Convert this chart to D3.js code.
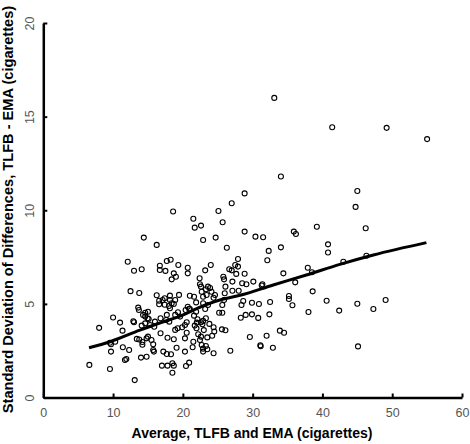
<!DOCTYPE html>
<html>
<head>
<meta charset="utf-8">
<script src="https://cdn.jsdelivr.net/npm/d3@7"></script>
<style>
  html, body { margin: 0; padding: 0; background: #fff; }
  svg { display: block; }
</style>
</head>
<body>
<svg id="chart" width="470" height="444"></svg>
<script>
// ---- Data ----
const xTicks = [0, 10, 20, 30, 40, 50, 60];
const yTicks = [0, 5, 10, 15, 20];
const xTitle = "Average, TLFB and EMA (cigarettes)";
const yTitle = "Standard Deviation of Differences, TLFB - EMA (cigarettes)";

// scatter points: average (x) and SD of differences (y)
const avgX = [
  33.1, 41.4, 49.2, 55.0, 34.05, 28.85, 45.0, 44.75, 39.2, 46.2,
  28.85, 30.4, 31.5, 35.9, 36.2, 40.8, 40.8, 34.05, 32.3, 32.1,
  28.85, 34.4, 37.9, 38.5, 43.0, 46.3, 36.1, 38.6, 40.6, 45.0,
  49.05, 47.3, 42.4, 38.0, 35.2, 35.2, 35.7, 32.5, 32.4, 33.9,
  34.5, 32.0, 29.6, 31.1, 31.15, 32.9, 45.1, 30.1, 31.4, 31.3,
  29.1, 28.5, 29.9, 30.9, 28.65, 28.4, 29.0, 29.9, 30.8, 28.3,
  27.1, 28.0, 25.2, 25.65, 25.65, 25.9, 26.8, 24.4, 25.6, 26.1,
  24.4, 24.5, 24.2, 22.7, 23.3, 23.4, 24.1, 24.6, 24.4, 23.9,
  23.6, 22.6, 22.9, 23.6, 23.2, 23.3, 22.9, 22.6, 23.8, 22.8,
  23.0, 22.6, 23.5, 23.3, 22.9, 22.9, 23.5, 27.0, 25.1, 25.7,
  22.6, 22.9, 24.7, 26.3, 27.9, 27.5, 27.9, 26.65, 27.0, 27.65,
  24.0, 23.2, 25.8, 25.9, 22.4, 18.6, 21.5, 21.7, 14.4, 16.25,
  12.1, 13.0, 14.1, 16.7, 16.7, 17.5, 17.7, 18.25, 19.35, 18.7,
  19.0, 18.4, 20.7, 20.7, 22.45, 12.5, 13.75, 16.25, 16.6, 16.6,
  17.4, 17.1, 17.4, 18.15, 18.4, 18.9, 18.7, 18.0, 18.15, 19.45,
  18.15, 21.0, 21.6, 21.9, 22.9, 20.7, 20.9, 26.0, 26.1, 27.1,
  13.6, 13.7, 14.6, 15.0, 14.3, 14.6, 14.95, 15.1, 12.9, 13.0,
  10.0, 11.0, 8.0, 11.35, 14.1, 14.6, 15.3, 15.9, 16.0, 16.8,
  17.6, 17.7, 18.05, 18.9, 19.3, 19.6, 20.4, 21.0, 21.9, 21.6,
  22.1, 22.0, 13.4, 13.75, 14.2, 14.2, 14.8, 15.0, 15.5, 15.75,
  15.75, 15.85, 9.55, 9.7, 10.3, 9.7, 11.4, 12.3, 11.7, 11.9,
  9.55, 13.1, 14.0, 14.8, 17.2, 17.7, 18.3, 17.0, 17.8, 18.5,
  18.7, 18.5, 20.3, 20.9, 20.45, 19.1, 17.8, 18.7, 16.8, 18.9,
  19.25, 19.9, 20.3, 20.55, 20.55, 21.5, 21.4, 20.3, 21.7, 21.95,
  22.2, 22.45, 22.7, 6.6
];
const sdY = [
  16.0, 14.43, 14.4, 13.8, 11.8, 10.9, 11.03, 10.18, 9.12, 9.04,
  8.86, 8.59, 8.56, 8.86, 8.73, 8.18, 7.74, 8.02, 7.83, 7.33,
  6.61, 6.63, 6.93, 6.69, 7.25, 7.57, 6.15, 5.67, 5.17, 5.01,
  5.21, 4.73, 4.64, 4.57, 5.42, 5.26, 4.93, 5.10, 4.44, 3.57,
  3.46, 3.30, 3.23, 2.79, 2.74, 2.66, 2.73, 6.19, 6.05, 5.98,
  6.05, 6.1, 5.06, 4.99, 5.15, 4.94, 4.41, 4.44, 4.25, 4.26,
  5.7, 5.7, 4.53, 4.53, 4.94, 5.21, 2.5, 2.36, 3.64, 3.59,
  3.75, 3.52, 3.30, 5.65, 5.78, 5.47, 5.65, 5.47, 5.33, 5.85,
  5.92, 5.92, 5.03, 4.94, 4.73, 4.23, 4.09, 4.02, 3.93, 3.91,
  3.6, 3.25, 3.21, 2.75, 2.61, 2.45, 2.58, 10.37, 9.96, 9.36,
  9.18, 8.41, 8.54, 8.0, 7.4, 7.08, 6.99, 6.85, 6.79, 6.6,
  7.08, 6.79, 6.45, 6.31, 6.37, 9.93, 9.55, 9.07, 8.54, 8.15,
  7.25, 6.77, 6.85, 7.04, 6.81, 6.76, 7.29, 7.36, 7.08, 6.63,
  6.45, 6.31, 6.93, 6.63, 6.05, 5.68, 5.58, 5.46, 5.17, 4.98,
  4.95, 5.21, 5.3, 5.21, 5.03, 5.21, 4.99, 4.89, 4.77, 5.48,
  5.44, 5.43, 5.38, 5.08, 5.38, 4.85, 4.74, 5.57, 5.92, 6.19,
  4.8, 4.67, 4.53, 4.58, 4.41, 4.32, 4.23, 4.19, 4.07, 4.02,
  4.27, 4.0, 3.72, 3.57, 3.84, 3.96, 3.87, 3.78, 4.05, 4.23,
  4.14, 4.41, 4.05, 4.41, 4.55, 4.32, 4.67, 4.73, 4.58, 4.37,
  4.18, 4.0, 3.13, 3.10, 2.96, 2.82, 3.16, 3.25, 3.07, 2.84,
  2.54, 2.45, 2.92, 2.84, 2.98, 2.45, 2.68, 2.54, 2.0, 2.06,
  1.52, 0.93, 2.13, 2.18, 2.45, 2.32, 2.31, 1.7, 1.7, 1.83,
  1.7, 1.32, 2.45, 1.86, 1.68, 2.66, 3.19, 3.11, 3.43, 3.61,
  3.7, 3.75, 3.87, 3.46, 4.02, 2.98, 2.68, 3.16, 3.84, 3.7,
  3.38, 3.07, 2.8, 1.74
];

// smoothed fit line
const fitX = [6.55, 9.55, 13.85, 17.0, 20.05, 21.5, 25.8, 28.2, 32.95, 37.7, 42.5, 47.3, 54.9];
const fitY = [2.66, 2.98, 3.6, 4.02, 4.41, 4.67, 5.26, 5.46, 6.01, 6.54, 7.11, 7.61, 8.27];

// ---- Drawing ----
const svg = d3.select("#chart");
const font = "Arial, 'Liberation Sans', sans-serif";

const x = d3.scaleLinear().domain([0, 60]).range([43.3, 462]);
const y = d3.scaleLinear().domain([0, 20]).range([397.5, 23]);

// points
const pts = avgX.map((v, i) => ({ x: v, y: sdY[i] }));
svg.append("g")
  .selectAll("circle")
  .data(pts)
  .join("circle")
  .attr("cx", d => x(d.x))
  .attr("cy", d => y(d.y))
  .attr("r", 2.5)
  .attr("fill", "none")
  .attr("stroke", "#000")
  .attr("stroke-width", 1.1);

// fit line
const fit = fitX.map((v, i) => ({ x: v, y: fitY[i] }));
svg.append("path")
  .datum(fit)
  .attr("fill", "none")
  .attr("stroke", "#000")
  .attr("stroke-width", 3)
  .attr("stroke-linejoin", "round")
  .attr("d", d3.line().x(d => x(d.x)).y(d => y(d.y)).curve(d3.curveMonotoneX));

// x axis
const gx = svg.append("g")
  .attr("transform", `translate(0,${y(0)})`)
  .call(d3.axisBottom(x).tickValues(xTicks).tickSize(-4).tickPadding(11).tickSizeOuter(0));
gx.select(".domain").attr("stroke-width", 2.5).attr("stroke", "#000");
gx.selectAll(".tick line").attr("stroke-width", 2).attr("stroke", "#000");
gx.selectAll(".tick text")
  .attr("font-family", font).attr("font-size", 12.5).attr("fill", "#555");

// y axis
const gy = svg.append("g")
  .attr("transform", `translate(${x(0)},0)`)
  .call(d3.axisLeft(y).tickValues(yTicks).tickSize(-4).tickSizeOuter(0));
gy.select(".domain").attr("stroke-width", 2.5).attr("stroke", "#000");
gy.selectAll(".tick line").attr("stroke-width", 2).attr("stroke", "#000");
gy.selectAll(".tick text")
  .attr("x", 0).attr("dy", null).attr("y", 0)
  .attr("text-anchor", "middle")
  .attr("transform", "translate(-9,0) rotate(-90)")
  .attr("font-family", font).attr("font-size", 12.5).attr("fill", "#555");

// titles
svg.append("text")
  .attr("x", 252).attr("y", 438.3)
  .attr("text-anchor", "middle")
  .attr("font-family", font).attr("font-size", 14).attr("font-weight", "bold")
  .attr("fill", "#000")
  .text(xTitle);

svg.append("text")
  .attr("transform", "translate(13,209.5) rotate(-90)")
  .attr("text-anchor", "middle")
  .attr("font-family", font).attr("font-size", 14.6).attr("font-weight", "bold")
  .attr("fill", "#000")
  .text(yTitle);
</script>
</body>
</html>
